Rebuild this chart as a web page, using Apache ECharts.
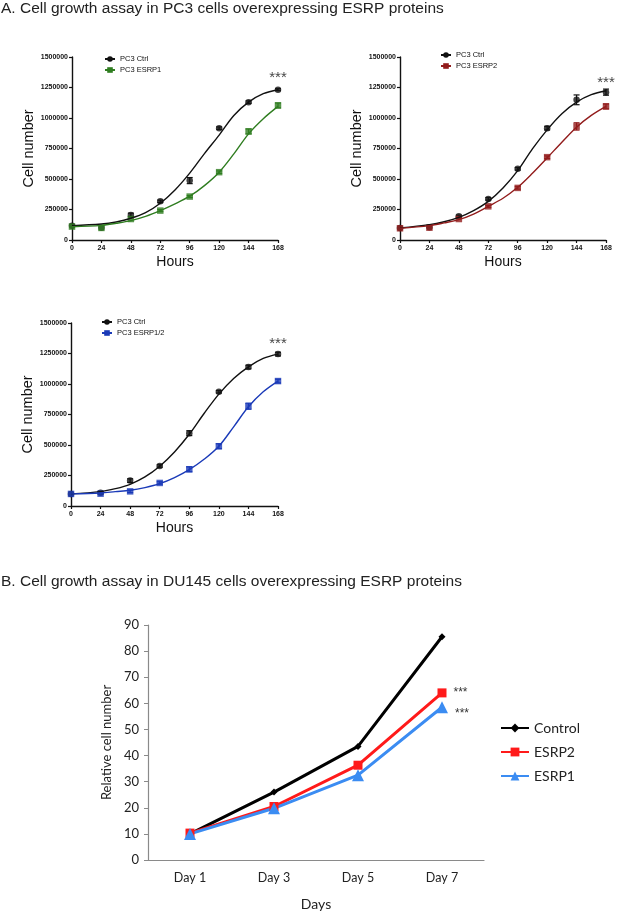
<!DOCTYPE html>
<html>
<head>
<meta charset="utf-8">
<title>Cell growth assay</title>
<script src="https://cdn.jsdelivr.net/npm/echarts@6/dist/echarts.min.js"></script>
<style>
  html, body { margin: 0; padding: 0; background: #fff; }
  #chart { width: 617px; height: 913px; }
</style>
</head>
<body>
<div id="chart"></div>
<script>
// sampling times (h) of the PC3 growth curves
const hours = [ 0, 24, 48, 72, 96, 120, 144, 168 ];
const fitHours = [ 0, 24, 36, 48, 60, 72, 84, 96, 108, 120, 132, 144, 156, 168 ];

// panel A1 : PC3 Ctrl vs ESRP1
const a1Ctrl = [ 117000, 100000, 205000, 317000, 487000, 917000, 1130000, 1232000 ];
const a1CtrlErr = [ 0, 0, 15000, 10000, 25000, 10000, 10000, 8000 ];
const a1CtrlFit = [ 117000, 131000, 148000, 178000, 224000, 301000, 410000, 548000, 708000, 860000, 1021000, 1130000, 1199000, 1232000 ];
const a1Esrp = [ 110000, 99000, 172000, 241000, 356000, 556000, 890000, 1103000 ];
const a1EsrpErr = [ 0, 0, 0, 8000, 8000, 10000, 20000, 20000 ];
const a1EsrpFit = [ 109000, 120000, 137000, 159000, 194000, 241000, 296000, 359000, 446000, 556000, 706000, 870000, 994000, 1095000 ];

// panel A2 : PC3 Ctrl vs ESRP2
const a2Ctrl = [ 99000, 104000, 194000, 337000, 583000, 917000, 1149000, 1212000 ];
const a2CtrlErr = [ 0, 0, 10000, 10000, 10000, 15000, 40000, 25000 ];
const a2CtrlFit = [ 99000, 126000, 150000, 186000, 241000, 317000, 427000, 569000, 747000, 903000, 1035000, 1130000, 1191000, 1223000 ];
const a2Esrp = [ 96000, 101000, 172000, 276000, 427000, 679000, 931000, 1095000 ];
const a2EsrpErr = [ 0, 0, 0, 8000, 10000, 10000, 30000, 20000 ];
const a2EsrpFit = [ 96000, 118000, 140000, 167000, 213000, 276000, 342000, 432000, 547000, 673000, 802000, 925000, 1021000, 1095000 ];

// panel A3 : PC3 Ctrl vs ESRP1/2
const a3Ctrl = [ 99000, 109000, 208000, 328000, 597000, 936000, 1139000, 1245000 ];
const a3CtrlErr = [ 0, 10000, 15000, 10000, 20000, 10000, 15000, 15000 ];
const a3CtrlFit = [ 99000, 118000, 142000, 178000, 238000, 326000, 443000, 588000, 758000, 917000, 1045000, 1141000, 1210000, 1245000 ];
const a3Esrp = [ 99000, 101000, 120000, 189000, 301000, 490000, 818000, 1024000 ];
const a3EsrpErr = [ 0, 0, 10000, 10000, 20000, 20000, 25000, 15000 ];
const a3EsrpFit = [ 99000, 107000, 118000, 129000, 151000, 183000, 233000, 298000, 383000, 490000, 649000, 813000, 936000, 1024000 ];

// panel B : DU145 relative cell number
const days = [ 'Day 1', 'Day 3', 'Day 5', 'Day 7' ];
const duControl = [ 10, 26, 43.5, 85.5 ];
const duEsrp2 = [ 10.3, 20.5, 36.3, 64 ];
const duEsrp1 = [ 10, 19.8, 32.5, 58.5 ];

const panels = [
    { grid: { left: 72, top: 57, width: 206, height: 183 }, legendAt: [ 104, 55 ], stars: 1330000,
      ctrl: [ a1Ctrl, a1CtrlErr, a1CtrlFit ], esrp: [ a1Esrp, a1EsrpErr, a1EsrpFit ],
      name: 'PC3 ESRP1', color: '#2f7d20' },
    { grid: { left: 400, top: 57, width: 206, height: 183 }, legendAt: [ 440, 51 ], stars: 1290000,
      ctrl: [ a2Ctrl, a2CtrlErr, a2CtrlFit ], esrp: [ a2Esrp, a2EsrpErr, a2EsrpFit ],
      name: 'PC3 ESRP2', color: '#921c1c' },
    { grid: { left: 71, top: 323, width: 207, height: 183 }, legendAt: [ 101, 318 ], stars: 1325000,
      ctrl: [ a3Ctrl, a3CtrlErr, a3CtrlFit ], esrp: [ a3Esrp, a3EsrpErr, a3EsrpFit ],
      name: 'PC3 ESRP1/2', color: '#1a3ab8' }
];

const FONT = 'Liberation Sans, Arial, sans-serif';

function errorBars( color ) {
    return function ( params, api ) {
        const e = api.value( 2 );
        if ( !e ) return;
        const x = api.value( 0 ), y = api.value( 1 );
        const hi = api.coord( [ x, y + e ] ), lo = api.coord( [ x, y - e ] );
        const w = 3, style = { stroke: color, lineWidth: 1.2 };
        return {
            type: 'group',
            children: [
                { type: 'line', shape: { x1: hi[0], y1: hi[1], x2: lo[0], y2: lo[1] }, style },
                { type: 'line', shape: { x1: hi[0] - w, y1: hi[1], x2: hi[0] + w, y2: hi[1] }, style },
                { type: 'line', shape: { x1: lo[0] - w, y1: lo[1], x2: lo[0] + w, y2: lo[1] }, style }
            ]
        };
    };
}

function pcSeries( idx, name, color, symbol, set ) {
    const [ pts, err, fit ] = set;
    return [
        { type: 'line', name, xAxisIndex: idx, yAxisIndex: idx, smooth: 0.35, showSymbol: false,
          symbol, symbolSize: 6, color, lineStyle: { width: 1.4, color }, silent: true,
          data: fit.map( ( v, i ) => [ fitHours[i], v ] ) },
        { type: 'custom', xAxisIndex: idx, yAxisIndex: idx, silent: true, renderItem: errorBars( color ),
          encode: { x: 0, y: 1 }, data: pts.map( ( v, i ) => [ hours[i], v, err[i] ] ) },
        { type: 'scatter', name: name + ' mean', xAxisIndex: idx, yAxisIndex: idx, silent: true,
          symbol, symbolSize: 6.5, itemStyle: { color }, data: pts.map( ( v, i ) => [ hours[i], v ] ) }
    ];
}

const smallLabel = { fontFamily: FONT, fontSize: 7, fontWeight: 'bold', color: '#111', formatter: v => String( v ) };
const blackAxis = { lineStyle: { color: '#111', width: 1.4 } };

const option = {
    animation: false,
    backgroundColor: '#fff',
    title: [
        { text: 'A. Cell growth assay in PC3 cells overexpressing ESRP proteins', left: 0, top: 0, padding: 1,
          textStyle: { fontFamily: FONT, fontSize: 15.5, fontWeight: 'normal', color: '#222' } },
        { text: 'B. Cell growth assay in DU145 cells overexpressing ESRP proteins', left: 0, top: 573, padding: 1,
          textStyle: { fontFamily: FONT, fontSize: 15.5, fontWeight: 'normal', color: '#222' } }
    ],
    grid: [],
    xAxis: [],
    yAxis: [],
    legend: [],
    series: []
};

panels.forEach( ( p, i ) => {
    option.grid.push( p.grid );
    option.xAxis.push( {
        type: 'value', gridIndex: i, min: 0, max: 168, interval: 24,
        axisLine: blackAxis, axisTick: { length: 3, lineStyle: { color: '#111', width: 1.2 } },
        axisLabel: Object.assign( { margin: 5 }, smallLabel ), splitLine: { show: false },
        name: 'Hours', nameLocation: 'middle', nameGap: 15,
        nameTextStyle: { fontFamily: FONT, fontSize: 14, color: '#111' }
    } );
    option.yAxis.push( {
        type: 'value', gridIndex: i, min: 0, max: 1500000, interval: 250000,
        axisLine: Object.assign( { show: true }, blackAxis ),
        axisTick: { show: true, length: 3, lineStyle: { color: '#111', width: 1.2 } },
        axisLabel: Object.assign( { margin: 4 }, smallLabel ), splitLine: { show: false },
        name: 'Cell number', nameLocation: 'middle', nameGap: 36,
        nameTextStyle: { fontFamily: FONT, fontSize: 14.5, color: '#111' }
    } );
    option.legend.push( {
        left: p.legendAt[0], top: p.legendAt[1], orient: 'vertical', padding: 0,
        itemWidth: 10, itemHeight: 7, itemGap: 3, selectedMode: false,
        data: [ 'PC3 Ctrl', p.name ],
        textStyle: { fontFamily: FONT, fontSize: 7.5, color: '#111' }
    } );
    option.series.push(
        ...pcSeries( i, 'PC3 Ctrl', '#111', 'circle', p.ctrl ),
        ...pcSeries( i, p.name, p.color, 'rect', p.esrp ),
        { type: 'scatter', xAxisIndex: i, yAxisIndex: i, silent: true, symbolSize: 0,
          label: { show: true, position: 'inside', formatter: '***', fontFamily: FONT, fontSize: 15, color: '#111' },
          data: [ [ 168, p.stars ] ] }
    );
} );

// panel B
const grey = '#8a8a8a';
const calibri = 'Lato, Carlito, sans-serif';
option.grid.push( { left: 148, top: 625, width: 336, height: 235 } );
option.xAxis.push( {
    type: 'category', gridIndex: 3, data: days, boundaryGap: true,
    axisLine: { lineStyle: { color: grey, width: 1.2 } },
    axisTick: { length: 5, lineStyle: { color: grey } },
    axisLabel: { margin: 11, fontFamily: calibri, fontSize: 12.5, color: '#222' },
    name: 'Days', nameLocation: 'middle', nameGap: 37,
    nameTextStyle: { fontFamily: calibri, fontSize: 14, color: '#222' }
} );
option.yAxis.push( {
    type: 'value', gridIndex: 3, min: 0, max: 90, interval: 10,
    axisLine: { show: true, lineStyle: { color: grey, width: 1.2 } },
    axisTick: { show: true, length: 4, lineStyle: { color: grey } },
    axisLabel: { margin: 9, fontFamily: calibri, fontSize: 13, color: '#222' },
    splitLine: { show: false },
    name: 'Relative cell number', nameLocation: 'middle', nameGap: 30,
    nameTextStyle: { fontFamily: calibri, fontSize: 13, color: '#222' }
} );
option.legend.push( {
    left: 500, top: 721, orient: 'vertical', padding: 0, itemWidth: 28, itemHeight: 11, itemGap: 10,
    selectedMode: false, data: [ 'Control', 'ESRP2', 'ESRP1' ],
    textStyle: { fontFamily: calibri, fontSize: 14, color: '#222' }
} );

function withStars( values, offsetY ) {
    const last = values.length - 1;
    return values.map( ( v, i ) => i !== last ? v : {
        value: v,
        label: { show: true, position: 'right', distance: 7, offset: [ 0, offsetY ], formatter: '***',
                 fontFamily: FONT, fontSize: 12, color: '#333' }
    } );
}

option.series.push(
    { type: 'line', name: 'Control', xAxisIndex: 3, yAxisIndex: 3, data: duControl, color: '#000',
      symbol: 'diamond', symbolSize: 7, lineStyle: { width: 3 }, silent: true },
    { type: 'line', name: 'ESRP2', xAxisIndex: 3, yAxisIndex: 3, data: withStars( duEsrp2, 0 ), color: '#ff1a1a',
      symbol: 'rect', symbolSize: 9, lineStyle: { width: 3 }, silent: true },
    { type: 'line', name: 'ESRP1', xAxisIndex: 3, yAxisIndex: 3, data: withStars( duEsrp1, 6 ), color: '#3b8cf2',
      symbol: 'triangle', symbolSize: 12, lineStyle: { width: 3 }, silent: true }
);

document.addEventListener( 'DOMContentLoaded', function () {
    const chart = echarts.init( document.getElementById( 'chart' ), null, { renderer: 'canvas' } );
    chart.setOption( option );
} );
</script>
</body>
</html>
